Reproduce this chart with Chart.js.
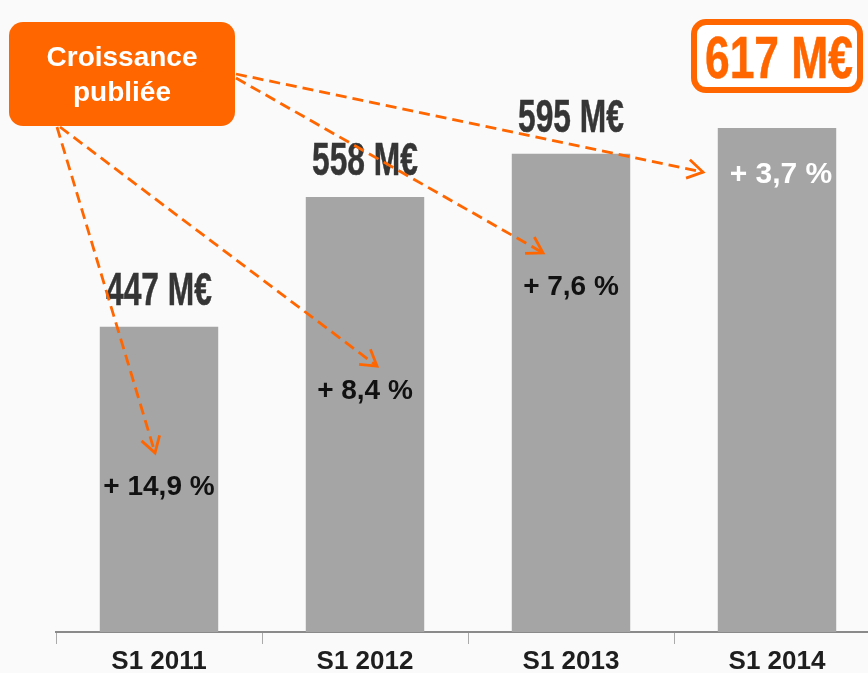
<!DOCTYPE html>
<html>
<head>
<meta charset="utf-8">
<script src="https://cdn.jsdelivr.net/npm/chart.js@4.4.1/dist/chart.umd.min.js"></script>
<style>
  html, body { margin: 0; padding: 0; overflow: hidden; background: #fafafa; }
  #wrap { width: 900px; height: 673px; position: relative; }
</style>
</head>
<body>
<div id="wrap"><canvas id="myChart"></canvas></div>
<script>
const categories = ['S1 2011', 'S1 2012', 'S1 2013', 'S1 2014'];
const revenue = [447, 558, 595, 617];          // M€
const growth = ['+ 14,9 %', '+ 8,4 %', '+ 7,6 %', '+ 3,7 %'];
const calloutLines = ['Croissance', 'publiée'];

const orange = '#ff6600';
const font = '"Liberation Sans", Arial, sans-serif';

// where the growth label sits below the bar top, and where its arrow points
const pctOffset = [160, 194, 133, 47];
const tipDx = [-4, 12, -28, -74];
const tipDy = [-34, -25, -34, -3];

function squeezedText(ctx, text, x, y, size, sx, color) {
    ctx.save();
    ctx.font = 'bold ' + size + 'px ' + font;
    ctx.fillStyle = color;
    ctx.textAlign = 'center';
    ctx.textBaseline = 'alphabetic';
    ctx.translate(x, y);
    ctx.scale(sx, 1);
    ctx.strokeStyle = color;
    ctx.lineWidth = 0.5;
    ctx.strokeText(text, 0, 0);
    ctx.fillText(text, 0, 0);
    ctx.restore();
}

function arrow(ctx, x1, y1, x2, y2) {
    ctx.save();
    ctx.strokeStyle = orange;
    ctx.lineWidth = 2.8;
    ctx.setLineDash([11, 6]);
    ctx.beginPath();
    ctx.moveTo(x1, y1);
    ctx.lineTo(x2, y2);
    ctx.stroke();
    ctx.setLineDash([]);
    let a = Math.atan2(y2 - y1, x2 - x1);
    let L = 18;
    ctx.beginPath();
    ctx.moveTo(x2 - L * Math.cos(a - 0.55), y2 - L * Math.sin(a - 0.55));
    ctx.lineTo(x2, y2);
    ctx.lineTo(x2 - L * Math.cos(a + 0.55), y2 - L * Math.sin(a + 0.55));
    ctx.stroke();
    ctx.restore();
}

const annot = {
    id: 'annot',
    afterDatasetsDraw(chart) {
        const ctx = chart.ctx;
        const bars = chart.getDatasetMeta(0).data;
        let tips = [];
        bars.forEach((bar, i) => {
            let last = i === bars.length - 1;
            // value on top
            if (last) {
                let cy = bar.y - 72;
                ctx.save();
                ctx.beginPath();
                ctx.roundRect(bar.x - 83, cy - 34, 166, 68, 12);
                ctx.fillStyle = '#fff';
                ctx.fill();
                ctx.lineWidth = 6;
                ctx.strokeStyle = orange;
                ctx.stroke();
                ctx.restore();
                squeezedText(ctx, revenue[i] + ' M€', bar.x + 2, cy + 22, 60, 0.74, orange);
            } else {
                squeezedText(ctx, revenue[i] + ' M€', bar.x, bar.y - 22, 46, 0.69, '#353535');
            }
            // growth label
            let py = bar.y + pctOffset[i];
            ctx.save();
            ctx.font = 'bold ' + (last ? 30 : 28) + 'px ' + font;
            ctx.fillStyle = last ? '#fff' : '#111';
            ctx.textAlign = 'center';
            ctx.textBaseline = 'middle';
            ctx.fillText(growth[i], bar.x + (last ? 4 : 0), py);
            ctx.restore();
            tips.push([bar.x + tipDx[i], py + tipDy[i]]);
        });

        // callout box
        ctx.save();
        ctx.beginPath();
        ctx.roundRect(9, 22, 226, 104, 14);
        ctx.fillStyle = orange;
        ctx.fill();
        ctx.font = 'bold 28px ' + font;
        ctx.fillStyle = '#fff';
        ctx.textAlign = 'center';
        ctx.textBaseline = 'middle';
        ctx.fillText(calloutLines[0], 122, 58);
        ctx.fillText(calloutLines[1], 122, 93);
        ctx.restore();

        arrow(ctx, 57, 127, tips[0][0], tips[0][1]);
        arrow(ctx, 60, 127, tips[1][0], tips[1][1]);
        arrow(ctx, 236, 78, tips[2][0], tips[2][1]);
        arrow(ctx, 236, 74, tips[3][0], tips[3][1]);
    }
};

const ctx = document.getElementById('myChart');
new Chart(ctx, {
    type: 'bar',
    data: {
        labels: categories,
        datasets: [{
            data: revenue,
            backgroundColor: '#a5a5a5',
            borderWidth: 0,
            barPercentage: 0.575,
            categoryPercentage: 1
        }]
    },
    options: {
        responsive: true,
        maintainAspectRatio: false,
        animation: false,
        layout: { padding: { left: 56, right: 20, top: 10, bottom: 0 } },
        scales: {
            y: { display: false, min: 186, max: 718 },
            x: {
                grid: { offset: true, drawOnChartArea: false, tickLength: 12, color: '#aaa', lineWidth: 1 },
                border: { color: '#8a8a8a', width: 2 },
                ticks: { color: '#1e1e1e', padding: 2, font: { family: font, size: 26, weight: 'bold' } },
                afterFit(s) { s.height = 41; }
            }
        },
        plugins: {
            legend: { display: false },
            tooltip: { enabled: false }
        }
    },
    plugins: [annot]
});
</script>
</body>
</html>
